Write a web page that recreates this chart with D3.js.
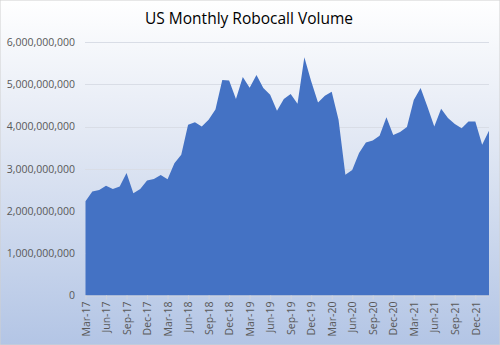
<!DOCTYPE html>
<html>
<head>
<meta charset="utf-8">
<script src="https://cdn.jsdelivr.net/npm/d3@7"></script>
<style>
  html, body { margin: 0; padding: 0; background: #fff; }
  svg { display: block; }
</style>
</head>
<body>
<svg id="chart" width="500" height="345"></svg>
<script>
// Monthly robocall volume, Mar 2017 – Feb 2022
const months = [
  "Mar-17","Apr-17","May-17","Jun-17","Jul-17","Aug-17","Sep-17","Oct-17","Nov-17","Dec-17",
  "Jan-18","Feb-18","Mar-18","Apr-18","May-18","Jun-18","Jul-18","Aug-18","Sep-18","Oct-18","Nov-18","Dec-18",
  "Jan-19","Feb-19","Mar-19","Apr-19","May-19","Jun-19","Jul-19","Aug-19","Sep-19","Oct-19","Nov-19","Dec-19",
  "Jan-20","Feb-20","Mar-20","Apr-20","May-20","Jun-20","Jul-20","Aug-20","Sep-20","Oct-20","Nov-20","Dec-20",
  "Jan-21","Feb-21","Mar-21","Apr-21","May-21","Jun-21","Jul-21","Aug-21","Sep-21","Oct-21","Nov-21","Dec-21",
  "Jan-22","Feb-22"
];
const volume = [
  2.23e9, 2.46e9, 2.50e9, 2.60e9, 2.52e9, 2.58e9, 2.90e9, 2.42e9, 2.52e9, 2.72e9,
  2.76e9, 2.85e9, 2.75e9, 3.13e9, 3.33e9, 4.04e9, 4.10e9, 4.00e9, 4.16e9, 4.40e9, 5.10e9, 5.09e9,
  4.65e9, 5.17e9, 4.92e9, 5.22e9, 4.91e9, 4.75e9, 4.37e9, 4.65e9, 4.77e9, 4.54e9, 5.64e9, 5.07e9,
  4.57e9, 4.73e9, 4.82e9, 4.16e9, 2.86e9, 2.97e9, 3.37e9, 3.62e9, 3.67e9, 3.78e9, 4.22e9, 3.80e9,
  3.87e9, 3.99e9, 4.63e9, 4.91e9, 4.47e9, 4.00e9, 4.42e9, 4.20e9, 4.06e9, 3.96e9, 4.12e9, 4.12e9,
  3.57e9, 3.90e9
];
const yTicks = [0, 1e9, 2e9, 3e9, 4e9, 5e9, 6e9];
const xTickLabels = ["Mar-17","Jun-17","Sep-17","Dec-17","Mar-18","Jun-18","Sep-18","Dec-18",
  "Mar-19","Jun-19","Sep-19","Dec-19","Mar-20","Jun-20","Sep-20","Dec-20",
  "Mar-21","Jun-21","Sep-21","Dec-21"];
const title = "US Monthly Robocall Volume";

const W = 500, H = 345;
const svg = d3.select("#chart");

// background gradient
const defs = svg.append("defs");
const grad = defs.append("linearGradient").attr("id", "bg")
  .attr("x1", 0).attr("y1", 0).attr("x2", 0).attr("y2", 1);
grad.append("stop").attr("offset", "0%").attr("stop-color", "#ffffff");
grad.append("stop").attr("offset", "35%").attr("stop-color", "#e6ebf5");
grad.append("stop").attr("offset", "100%").attr("stop-color", "#b3c5e5");
svg.append("rect").attr("width", W).attr("height", H).attr("fill", "url(#bg)")
  .attr("stroke", "#d0d0d0").attr("stroke-width", 1);

const x = d3.scalePoint().domain(months).range([85.5, 489]);
const y = d3.scaleLinear().domain([0, 6e9]).range([295.5, 42]);

// gridlines
svg.append("g").selectAll("line").data(yTicks.filter(d => d > 0)).join("line")
  .attr("x1", 85).attr("x2", 489)
  .attr("y1", d => Math.round(y(d)) + 0.5).attr("y2", d => Math.round(y(d)) + 0.5)
  .attr("stroke", "#d9dde6").attr("stroke-width", 1);

// area
const area = d3.area()
  .x((d, i) => x(months[i]))
  .y0(y(0))
  .y1(d => y(d));
svg.append("path").datum(volume).attr("d", area).attr("fill", "#4472c4");

// y axis labels
const yAxis = d3.axisLeft(y).tickValues(yTicks).tickSize(0).tickPadding(10)
  .tickFormat(d3.format(","));
const gy = svg.append("g").attr("transform", "translate(85,0)").call(yAxis);
gy.select(".domain").remove();
gy.selectAll("text").attr("fill", "#595959")
  .style("font-family", "'Open Sans', sans-serif").style("font-size", "10.5px");

// x axis
const xAxis = d3.axisBottom(x).tickValues(xTickLabels).tickSize(4).tickPadding(4);
const gx = svg.append("g").attr("transform", `translate(0,${y(0)})`).call(xAxis);
gx.select(".domain").attr("stroke", "#d0d4dc").attr("d", "M85,0.5H489");
gx.selectAll(".tick line").attr("stroke", "#d0d4dc");
gx.selectAll("text")
  .attr("fill", "#595959")
  .style("font-family", "'Open Sans', sans-serif").style("font-size", "10.5px")
  .attr("text-anchor", "end")
  .attr("transform", "rotate(-90)")
  .attr("x", -6).attr("y", 0).attr("dy", "0.35em");

// title
svg.append("text").attr("x", 249).attr("y", 24).attr("text-anchor", "middle")
  .attr("fill", "#000")
  .style("font-family", "'Open Sans', sans-serif").style("font-size", "15.5px")
  .text(title);
</script>
</body>
</html>
